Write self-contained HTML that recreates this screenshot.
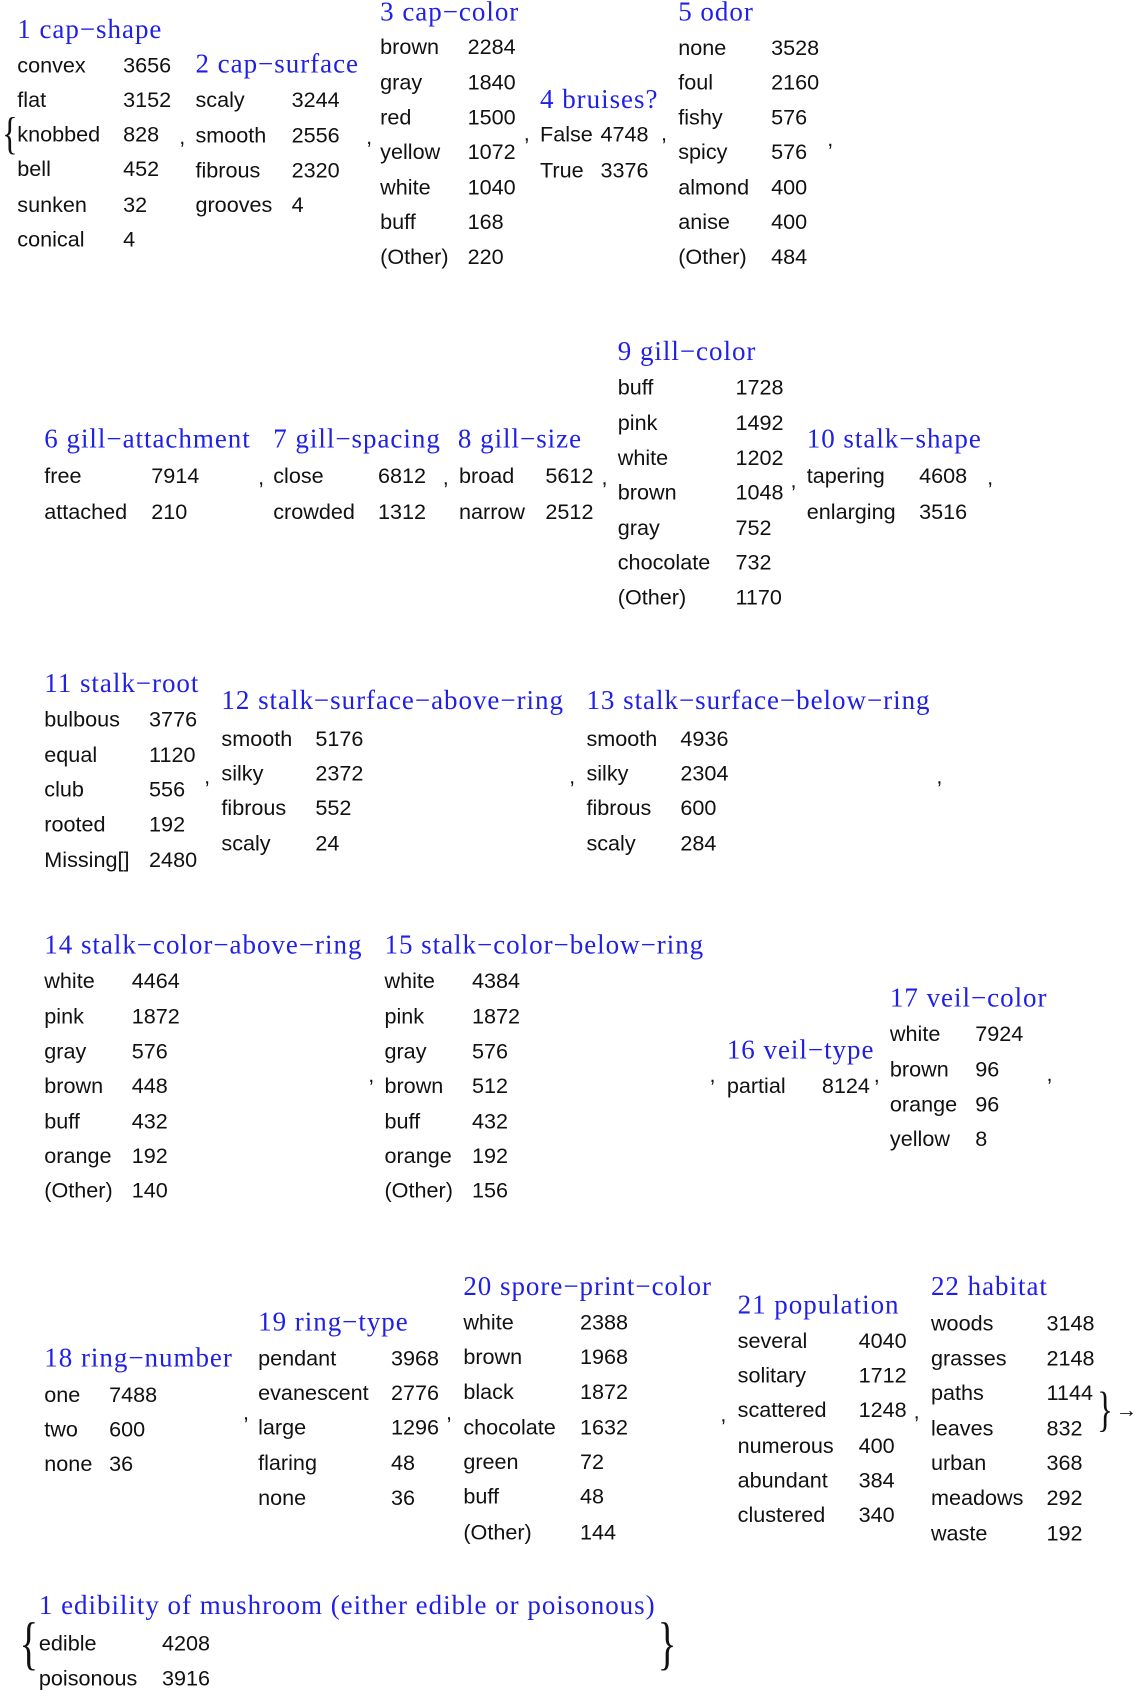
<!DOCTYPE html>
<html><head><meta charset="utf-8"><style>
html,body{margin:0;padding:0;background:#fff;width:1140px;height:1696px;overflow:hidden}
#c{position:absolute;left:0;top:0;width:1060px;height:1577px;transform:scale(1.08,1.081);transform-origin:0 0;font-family:"Liberation Sans",sans-serif;font-size:20px;color:#111}
#c div{position:absolute;white-space:nowrap;line-height:24px;height:24px}
#c .h{font-family:"Liberation Serif",serif;font-size:25px;letter-spacing:0.9px;color:#1f1fe6}
.br{font-family:"Liberation Serif",serif;font-weight:100;transform-origin:0 50%}
</style></head><body><div id="c">
<!-- Block 1 -->
<div class="h" style="left:16px;top:16px">1 cap−shape</div>
<div style="left:16px;top:49px">convex</div><div style="left:114px;top:49px">3656</div>
<div style="left:16px;top:81px">flat</div><div style="left:114px;top:81px">3152</div>
<div style="left:16px;top:113px">knobbed</div><div style="left:114px;top:113px">828</div>
<div style="left:16px;top:145px">bell</div><div style="left:114px;top:145px">452</div>
<div style="left:16px;top:178px">sunken</div><div style="left:114px;top:178px">32</div>
<div style="left:16px;top:210px">conical</div><div style="left:114px;top:210px">4</div>
<div class="br" style="left:2px;top:108px;font-size:30px;line-height:34px;height:34px;transform:scaleY(1.4)">{</div>
<div style="left:166px;top:115px">,</div>
<!-- Block 2 -->
<div class="h" style="left:181px;top:48px">2 cap−surface</div>
<div style="left:181px;top:81px">scaly</div><div style="left:270px;top:81px">3244</div>
<div style="left:181px;top:114px">smooth</div><div style="left:270px;top:114px">2556</div>
<div style="left:181px;top:146px">fibrous</div><div style="left:270px;top:146px">2320</div>
<div style="left:181px;top:178px">grooves</div><div style="left:270px;top:178px">4</div>
<div style="left:339px;top:115px">,</div>
<!-- Block 3 -->
<div class="h" style="left:352px;top:0px">3 cap−color</div>
<div style="left:352px;top:32px">brown</div><div style="left:433px;top:32px">2284</div>
<div style="left:352px;top:65px">gray</div><div style="left:433px;top:65px">1840</div>
<div style="left:352px;top:97px">red</div><div style="left:433px;top:97px">1500</div>
<div style="left:352px;top:129px">yellow</div><div style="left:433px;top:129px">1072</div>
<div style="left:352px;top:162px">white</div><div style="left:433px;top:162px">1040</div>
<div style="left:352px;top:194px">buff</div><div style="left:433px;top:194px">168</div>
<div style="left:352px;top:226px">(Other)</div><div style="left:433px;top:226px">220</div>
<div style="left:485px;top:112px">,</div>
<!-- Block 4 -->
<div class="h" style="left:500px;top:81px">4 bruises?</div>
<div style="left:500px;top:113px">False</div><div style="left:556px;top:113px">4748</div>
<div style="left:500px;top:146px">True</div><div style="left:556px;top:146px">3376</div>
<div style="left:612px;top:112px">,</div>
<!-- Block 5 -->
<div class="h" style="left:628px;top:0px">5 odor</div>
<div style="left:628px;top:33px">none</div><div style="left:714px;top:33px">3528</div>
<div style="left:628px;top:65px">foul</div><div style="left:714px;top:65px">2160</div>
<div style="left:628px;top:97px">fishy</div><div style="left:714px;top:97px">576</div>
<div style="left:628px;top:129px">spicy</div><div style="left:714px;top:129px">576</div>
<div style="left:628px;top:162px">almond</div><div style="left:714px;top:162px">400</div>
<div style="left:628px;top:194px">anise</div><div style="left:714px;top:194px">400</div>
<div style="left:628px;top:226px">(Other)</div><div style="left:714px;top:226px">484</div>
<div style="left:766px;top:117px">,</div>
<!-- Row 2 -->
<div class="h" style="left:41px;top:395px">6 gill−attachment</div>
<div style="left:41px;top:429px">free</div><div style="left:140px;top:429px">7914</div>
<div style="left:41px;top:462px">attached</div><div style="left:140px;top:462px">210</div>
<div style="left:239px;top:430px">,</div>
<div class="h" style="left:253px;top:395px">7 gill−spacing</div>
<div style="left:253px;top:429px">close</div><div style="left:350px;top:429px">6812</div>
<div style="left:253px;top:462px">crowded</div><div style="left:350px;top:462px">1312</div>
<div style="left:410px;top:430px">,</div>
<div class="h" style="left:424px;top:395px">8 gill−size</div>
<div style="left:425px;top:429px">broad</div><div style="left:505px;top:429px">5612</div>
<div style="left:425px;top:462px">narrow</div><div style="left:505px;top:462px">2512</div>
<div style="left:557px;top:430px">,</div>
<div class="h" style="left:572px;top:314px">9 gill−color</div>
<div style="left:572px;top:347px">buff</div><div style="left:681px;top:347px">1728</div>
<div style="left:572px;top:380px">pink</div><div style="left:681px;top:380px">1492</div>
<div style="left:572px;top:412px">white</div><div style="left:681px;top:412px">1202</div>
<div style="left:572px;top:444px">brown</div><div style="left:681px;top:444px">1048</div>
<div style="left:572px;top:477px">gray</div><div style="left:681px;top:477px">752</div>
<div style="left:572px;top:509px">chocolate</div><div style="left:681px;top:509px">732</div>
<div style="left:572px;top:541px">(Other)</div><div style="left:681px;top:541px">1170</div>
<div style="left:732px;top:433px">,</div>
<div class="h" style="left:747px;top:395px">10 stalk−shape</div>
<div style="left:747px;top:429px">tapering</div><div style="left:851px;top:429px">4608</div>
<div style="left:747px;top:462px">enlarging</div><div style="left:851px;top:462px">3516</div>
<div style="left:914px;top:430px">,</div>
<!-- Row 3 -->
<div class="h" style="left:41px;top:621px">11 stalk−root</div>
<div style="left:41px;top:654px">bulbous</div><div style="left:138px;top:654px">3776</div>
<div style="left:41px;top:687px">equal</div><div style="left:138px;top:687px">1120</div>
<div style="left:41px;top:719px">club</div><div style="left:138px;top:719px">556</div>
<div style="left:41px;top:751px">rooted</div><div style="left:138px;top:751px">192</div>
<div style="left:41px;top:784px">Missing[]</div><div style="left:138px;top:784px">2480</div>
<div style="left:189px;top:707px">,</div>
<div class="h" style="left:205px;top:637px">12 stalk−surface−above−ring</div>
<div style="left:205px;top:672px">smooth</div><div style="left:292px;top:672px">5176</div>
<div style="left:205px;top:704px">silky</div><div style="left:292px;top:704px">2372</div>
<div style="left:205px;top:736px">fibrous</div><div style="left:292px;top:736px">552</div>
<div style="left:205px;top:769px">scaly</div><div style="left:292px;top:769px">24</div>
<div style="left:527px;top:707px">,</div>
<div class="h" style="left:543px;top:637px">13 stalk−surface−below−ring</div>
<div style="left:543px;top:672px">smooth</div><div style="left:630px;top:672px">4936</div>
<div style="left:543px;top:704px">silky</div><div style="left:630px;top:704px">2304</div>
<div style="left:543px;top:736px">fibrous</div><div style="left:630px;top:736px">600</div>
<div style="left:543px;top:769px">scaly</div><div style="left:630px;top:769px">284</div>
<div style="left:867px;top:707px">,</div>
<!-- Row 4 -->
<div class="h" style="left:41px;top:863px">14 stalk−color−above−ring</div>
<div style="left:41px;top:896px">white</div><div style="left:122px;top:896px">4464</div>
<div style="left:41px;top:929px">pink</div><div style="left:122px;top:929px">1872</div>
<div style="left:41px;top:961px">gray</div><div style="left:122px;top:961px">576</div>
<div style="left:41px;top:993px">brown</div><div style="left:122px;top:993px">448</div>
<div style="left:41px;top:1026px">buff</div><div style="left:122px;top:1026px">432</div>
<div style="left:41px;top:1058px">orange</div><div style="left:122px;top:1058px">192</div>
<div style="left:41px;top:1090px">(Other)</div><div style="left:122px;top:1090px">140</div>
<div style="left:341px;top:983px">,</div>
<div class="h" style="left:356px;top:863px">15 stalk−color−below−ring</div>
<div style="left:356px;top:896px">white</div><div style="left:437px;top:896px">4384</div>
<div style="left:356px;top:929px">pink</div><div style="left:437px;top:929px">1872</div>
<div style="left:356px;top:961px">gray</div><div style="left:437px;top:961px">576</div>
<div style="left:356px;top:993px">brown</div><div style="left:437px;top:993px">512</div>
<div style="left:356px;top:1026px">buff</div><div style="left:437px;top:1026px">432</div>
<div style="left:356px;top:1058px">orange</div><div style="left:437px;top:1058px">192</div>
<div style="left:356px;top:1090px">(Other)</div><div style="left:437px;top:1090px">156</div>
<div style="left:657px;top:983px">,</div>
<div class="h" style="left:673px;top:960px">16 veil−type</div>
<div style="left:673px;top:993px">partial</div><div style="left:761px;top:993px">8124</div>
<div style="left:809px;top:983px">,</div>
<div class="h" style="left:824px;top:912px">17 veil−color</div>
<div style="left:824px;top:945px">white</div><div style="left:903px;top:945px">7924</div>
<div style="left:824px;top:978px">brown</div><div style="left:903px;top:978px">96</div>
<div style="left:824px;top:1010px">orange</div><div style="left:903px;top:1010px">96</div>
<div style="left:824px;top:1042px">yellow</div><div style="left:903px;top:1042px">8</div>
<div style="left:969px;top:982px">,</div>
<!-- Row 5 -->
<div class="h" style="left:41px;top:1245px">18 ring−number</div>
<div style="left:41px;top:1279px">one</div><div style="left:101px;top:1279px">7488</div>
<div style="left:41px;top:1311px">two</div><div style="left:101px;top:1311px">600</div>
<div style="left:41px;top:1343px">none</div><div style="left:101px;top:1343px">36</div>
<div style="left:225px;top:1295px">,</div>
<div class="h" style="left:239px;top:1212px">19 ring−type</div>
<div style="left:239px;top:1245px">pendant</div><div style="left:362px;top:1245px">3968</div>
<div style="left:239px;top:1277px">evanescent</div><div style="left:362px;top:1277px">2776</div>
<div style="left:239px;top:1309px">large</div><div style="left:362px;top:1309px">1296</div>
<div style="left:239px;top:1342px">flaring</div><div style="left:362px;top:1342px">48</div>
<div style="left:239px;top:1374px">none</div><div style="left:362px;top:1374px">36</div>
<div style="left:413px;top:1295px">,</div>
<div class="h" style="left:429px;top:1179px">20 spore−print−color</div>
<div style="left:429px;top:1212px">white</div><div style="left:537px;top:1212px">2388</div>
<div style="left:429px;top:1244px">brown</div><div style="left:537px;top:1244px">1968</div>
<div style="left:429px;top:1276px">black</div><div style="left:537px;top:1276px">1872</div>
<div style="left:429px;top:1309px">chocolate</div><div style="left:537px;top:1309px">1632</div>
<div style="left:429px;top:1341px">green</div><div style="left:537px;top:1341px">72</div>
<div style="left:429px;top:1373px">buff</div><div style="left:537px;top:1373px">48</div>
<div style="left:429px;top:1406px">(Other)</div><div style="left:537px;top:1406px">144</div>
<div style="left:667px;top:1297px">,</div>
<div class="h" style="left:683px;top:1196px">21 population</div>
<div style="left:683px;top:1229px">several</div><div style="left:795px;top:1229px">4040</div>
<div style="left:683px;top:1261px">solitary</div><div style="left:795px;top:1261px">1712</div>
<div style="left:683px;top:1293px">scattered</div><div style="left:795px;top:1293px">1248</div>
<div style="left:683px;top:1326px">numerous</div><div style="left:795px;top:1326px">400</div>
<div style="left:683px;top:1358px">abundant</div><div style="left:795px;top:1358px">384</div>
<div style="left:683px;top:1390px">clustered</div><div style="left:795px;top:1390px">340</div>
<div style="left:846px;top:1294px">,</div>
<div class="h" style="left:862px;top:1179px">22 habitat</div>
<div style="left:862px;top:1213px">woods</div><div style="left:969px;top:1213px">3148</div>
<div style="left:862px;top:1245px">grasses</div><div style="left:969px;top:1245px">2148</div>
<div style="left:862px;top:1277px">paths</div><div style="left:969px;top:1277px">1144</div>
<div style="left:862px;top:1310px">leaves</div><div style="left:969px;top:1310px">832</div>
<div style="left:862px;top:1342px">urban</div><div style="left:969px;top:1342px">368</div>
<div style="left:862px;top:1374px">meadows</div><div style="left:969px;top:1374px">292</div>
<div style="left:862px;top:1407px">waste</div><div style="left:969px;top:1407px">192</div>
<div class="br" style="left:1016px;top:1288px;font-size:30px;line-height:34px;height:34px;transform:scaleY(1.5)">}</div>
<div style="left:1033px;top:1293px">→</div>
<!-- Bottom -->
<div class="h" style="left:36px;top:1474px">1 edibility of mushroom (either edible or poisonous)</div>
<div class="br" style="left:18px;top:1500px;font-size:36px;line-height:40px;height:40px;transform:scaleY(1.5)">{</div>
<div style="left:36px;top:1509px">edible</div><div style="left:150px;top:1509px">4208</div>
<div style="left:36px;top:1541px">poisonous</div><div style="left:150px;top:1541px">3916</div>
<div class="br" style="left:609px;top:1500px;font-size:36px;line-height:40px;height:40px;transform:scaleY(1.5)">}</div>
</div></body></html>
